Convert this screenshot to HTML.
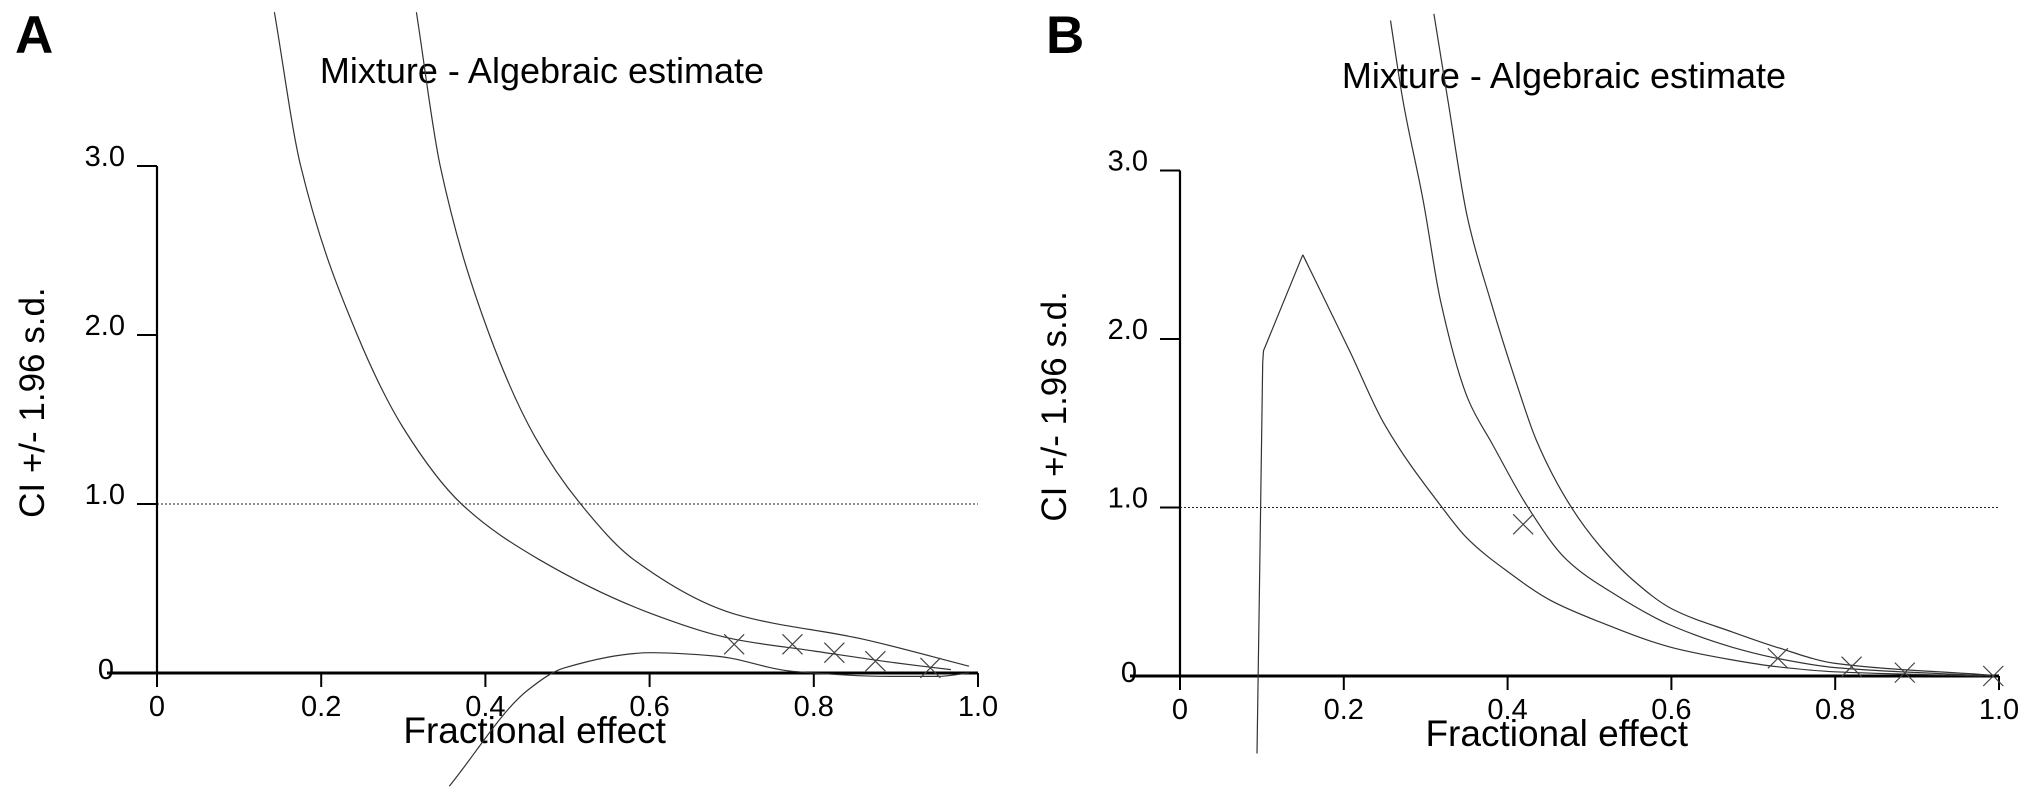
<!DOCTYPE html>
<html><head><meta charset="utf-8"><style>
html,body{margin:0;padding:0;background:#fff;}
svg{display:block;font-family:"Liberation Sans",Arial,sans-serif;}
</style></head><body>
<svg id="chart" width="2031" height="800" viewBox="0 0 2031 800">
<g id="panelA"></g>
<g id="panelB"></g>
</svg>
<script>
// ---------- data ----------
const xTicks = [0, 0.2, 0.4, 0.6, 0.8, 1.0];
const xTickLabels = ["0", "0.2", "0.4", "0.6", "0.8", "1.0"];
const yTicks = [0, 1, 2, 3];
const yTickLabels = ["0", "1.0", "2.0", "3.0"];
const refLevel = 1.0;

// Panel A series [fraction, CI]
const aInner = [[0.143,3.91],[0.175,3.0],[0.244,2.0],[0.30,1.45],[0.371,1.0],[0.466,0.67],[0.603,0.35],[0.703,0.2],[0.8,0.13],[0.9,0.06],[0.967,0.02]];
const aOuter = [[0.316,3.91],[0.345,3.0],[0.405,2.0],[0.46,1.4],[0.516,1.0],[0.581,0.67],[0.703,0.35],[0.86,0.2],[0.989,0.04]];
const aLower = [[0.356,-0.67],[0.452,-0.1],[0.496,0.03],[0.603,0.12],[0.681,0.1],[0.774,0.01],[0.895,-0.02],[0.95,-0.02],[0.989,0.0]];
const aMarkX = [0.703, 0.774, 0.825, 0.875, 0.942];
const aMarkY = [0.17, 0.17, 0.12, 0.07, 0.03];

// Panel B series
const bPeakRise = [[0.094,-0.46],[0.097,0.5],[0.101,1.86],[0.102,1.93],[0.150,2.5]];
const bPeakTail = [[0.150,2.5],[0.208,1.92],[0.249,1.5],[0.32,1.0],[0.35,0.82],[0.4,0.62],[0.452,0.45],[0.513,0.32],[0.6,0.17],[0.675,0.095],[0.729,0.055],[0.8,0.025],[0.98,0.0]];
const bMiddle = [[0.257,3.89],[0.272,3.42],[0.297,2.82],[0.318,2.23],[0.352,1.64],[0.381,1.38],[0.425,1.0],[0.472,0.69],[0.529,0.49],[0.6,0.30],[0.675,0.17],[0.729,0.105],[0.8,0.05],[0.99,0.0]];
const bOuter = [[0.310,3.93],[0.327,3.42],[0.351,2.72],[0.379,2.23],[0.412,1.72],[0.435,1.4],[0.478,1.0],[0.513,0.77],[0.553,0.57],[0.6,0.40],[0.675,0.26],[0.729,0.17],[0.8,0.075],[0.99,0.005]];
const bMarkX = [0.419, 0.73, 0.82, 0.885, 0.993];
const bMarkY = [0.9, 0.105, 0.055, 0.02, 0.0];

const NS = "http://www.w3.org/2000/svg";
function mk(parent, tag, attrs, text){
  const e = document.createElementNS(NS, tag);
  for (const k in attrs) e.setAttribute(k, attrs[k]);
  if (text !== undefined) e.textContent = text;
  parent.appendChild(e);
  return e;
}
// monotone cubic (Fritsch-Carlson) in screen x
function smoothPath(pts){
  const n = pts.length;
  const dx = [], m = [], t = new Array(n);
  for (let i = 0; i < n - 1; i++){
    dx.push(pts[i+1][0] - pts[i][0]);
    m.push((pts[i+1][1] - pts[i][1]) / (pts[i+1][0] - pts[i][0]));
  }
  t[0] = m[0]; t[n-1] = m[n-2];
  for (let i = 1; i < n - 1; i++){
    if (m[i-1] * m[i] <= 0) t[i] = 0;
    else {
      const w1 = 2*dx[i] + dx[i-1], w2 = dx[i] + 2*dx[i-1];
      t[i] = (w1 + w2) / (w1 / m[i-1] + w2 / m[i]);
    }
  }
  let d = "M" + pts[0][0].toFixed(1) + "," + pts[0][1].toFixed(1);
  for (let i = 0; i < n - 1; i++){
    const h = dx[i] / 3;
    d += " C" + (pts[i][0]+h).toFixed(1) + "," + (pts[i][1]+t[i]*h).toFixed(1) + " " +
         (pts[i+1][0]-h).toFixed(1) + "," + (pts[i+1][1]-t[i+1]*h).toFixed(1) + " " +
         pts[i+1][0].toFixed(1) + "," + pts[i+1][1].toFixed(1);
  }
  return d;
}

function drawPanel(g, cfg){
  const X = v => cfg.x0 + v * (cfg.x1 - cfg.x0);
  const Y = v => cfg.y0 - v * cfg.yUnit;
  const letter = mk(g, "text", {x: cfg.letterX, y: 53, "font-size": 53, "font-weight": "bold"}, cfg.letter);
  
  
  const title = mk(g, "text", {x: cfg.titleX, y: cfg.titleY, "font-size": 36, "text-anchor": "middle"}, "Mixture - Algebraic estimate");
  
  
  const ref = mk(g, "line", {x1: X(0), x2: X(1), y1: Y(refLevel), y2: Y(refLevel), stroke: "#222", "stroke-width": 1, "stroke-dasharray": "2,2"});
  
  
  const ya = mk(g, "line", {x1: X(0), x2: X(0), y1: Y(3), y2: Y(0), stroke: "#000", "stroke-width": 2.2});
  
  
  const xa = mk(g, "line", {x1: X(0) - 50, x2: X(1), y1: Y(0), y2: Y(0), stroke: "#000", "stroke-width": 3});
  
  
  yTicks.forEach((t, i) => {
    if (t > 0){
      const tl = mk(g, "line", {x1: X(0) - 20, x2: X(0), y1: Y(t), y2: Y(t), stroke: "#000", "stroke-width": 2});
      
      
    }
    const lx = t === 0 ? X(0) - 43 : X(0) - 32;
    const lab = mk(g, "text", {x: lx, y: Y(t) + (t === 0 ? 6 : 0), "font-size": 29, "text-anchor": "end"}, yTickLabels[i]);
    
    
  });
  xTicks.forEach((t, i) => {
    const tl = mk(g, "line", {x1: X(t), x2: X(t), y1: Y(0), y2: Y(0) + 14, stroke: "#000", "stroke-width": 2});
    
    
    const lab = mk(g, "text", {x: X(t), y: Y(0) + 43, "font-size": 29, "text-anchor": "middle"}, xTickLabels[i]);
    
    
  });
  const xt = mk(g, "text", {x: X(0.46), y: Y(0) + 70, "font-size": 37, "text-anchor": "middle"}, "Fractional effect");
  
  
  const yt = mk(g, "text", {x: 0, y: 0, "font-size": 35, "text-anchor": "middle", transform: "translate(" + (cfg.yTitleX) + "," + Y(1.6) + ") rotate(-90)"}, "CI +/- 1.96 s.d.");
  
  
  cfg.series.forEach(s => {
    const pts = s.data.map(p => [X(p[0]), Y(p[1])]);
    const d = s.smooth ? smoothPath(pts) : "M" + pts.map(p => p[0].toFixed(1) + "," + p[1].toFixed(1)).join(" L");
    const path = mk(g, "path", {d: d, fill: "none", stroke: "#333", "stroke-width": 1.2});
    
    
  });
  cfg.markX.forEach((mx, i) => {
    const cx = X(mx), cy = Y(cfg.markY[i]), r = 10;
    const m = mk(g, "path", {d: "M"+(cx-r)+","+(cy-r)+" L"+(cx+r)+","+(cy+r)+" M"+(cx-r)+","+(cy+r)+" L"+(cx+r)+","+(cy-r), stroke: "#444", "stroke-width": 1.2, fill: "none"});
    
    
  });
}

drawPanel(document.getElementById("panelA"), {
  letter: "A", letterX: 15, titleX: 542, titleY: 83,
  x0: 157, x1: 978, y0: 673, yUnit: 169, yTitleX: 44,
  series: [
    {name: "curve-a-inner", data: aInner, smooth: true},
    {name: "curve-a-outer", data: aOuter, smooth: true},
    {name: "curve-a-lower", data: aLower, smooth: true}
  ],
  markX: aMarkX, markY: aMarkY
});
drawPanel(document.getElementById("panelB"), {
  letter: "B", letterX: 1046, titleX: 1564, titleY: 88,
  x0: 1180, x1: 1999, y0: 676, yUnit: 168.5, yTitleX: 1066,
  series: [
    {name: "curve-b-peak-rise", data: bPeakRise, smooth: false},
    {name: "curve-b-peak-tail", data: bPeakTail, smooth: true},
    {name: "curve-b-middle", data: bMiddle, smooth: true},
    {name: "curve-b-outer", data: bOuter, smooth: true}
  ],
  markX: bMarkX, markY: bMarkY
});
</script>
</body></html>
